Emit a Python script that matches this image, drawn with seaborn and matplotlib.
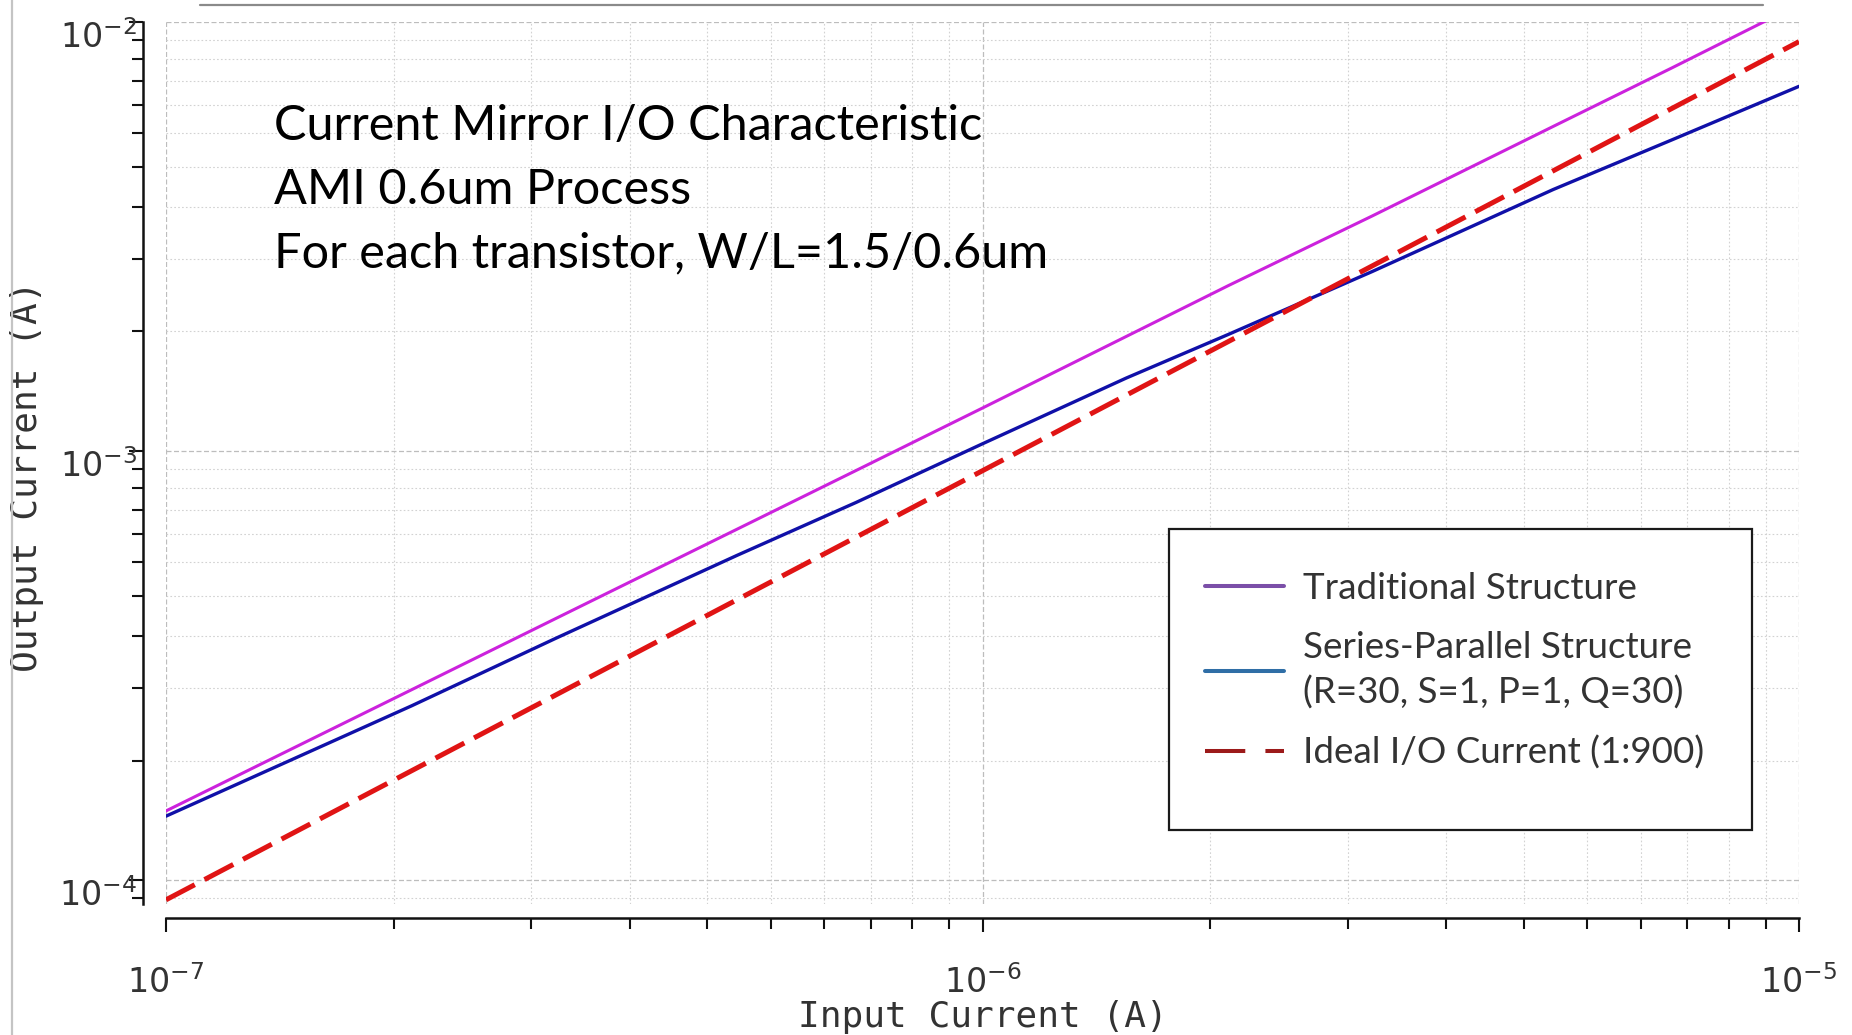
import numpy as np
import pandas as pd
import matplotlib
matplotlib.use("Agg")
import matplotlib.pyplot as plt
import matplotlib.ticker as mticker
import matplotlib.transforms as mtransforms
from matplotlib.lines import Line2D
from matplotlib.patches import Rectangle
import seaborn as sns

sns.set_style("ticks")
plt.rcParams["font.family"] = ["DejaVu Sans"]

# =========================
# DATA
# =========================
input_current = [1e-7, 2e-7, 3e-7, 5e-7, 7e-7, 1e-6, 1.5e-6, 2e-6, 3e-6, 5e-6, 7e-6, 1e-5]
traditional = [1.45e-4, 2.78e-4, 4.07e-4, 6.57e-4, 9.01e-4, 1.26e-3,
               1.85e-3, 2.43e-3, 3.53e-3, 5.71e-3, 7.83e-3, 1.10e-2]
series_parallel = [1.41e-4, 2.55e-4, 3.66e-4, 5.71e-4, 7.59e-4, 1.04e-3,
                   1.48e-3, 1.87e-3, 2.62e-3, 4.07e-3, 5.32e-3, 7.08e-3]
ideal = [9.0e-5, 1.8e-4, 2.7e-4, 4.5e-4, 6.3e-4, 9.0e-4,
         1.35e-3, 1.8e-3, 2.7e-3, 4.5e-3, 6.3e-3, 9.0e-3]

legend_labels = [
    "Traditional Structure",
    "Series-Parallel Structure\n(R=30, S=1, P=1, Q=30)",
    "Ideal I/O Current (1:900)",
]
x_major = [1e-7, 1e-6, 1e-5]
y_major = [1e-4, 1e-3, 1e-2]
minor_steps = [1.9, 2.8, 3.7, 4.6, 5.5, 6.4, 7.3, 8.2, 9.1]

df = pd.DataFrame({
    "x": input_current,
    "traditional": traditional,
    "series_parallel": series_parallel,
    "ideal": ideal,
})

# =========================
# FIGURE
# =========================
W, H = 1852, 1035
fig = plt.figure(figsize=(W / 100, H / 100), dpi=100)
ax = fig.add_axes([166 / W, 1 - 904 / H, (1799 - 166) / W, (904 - 22) / H])

ax.set_xscale("log")
ax.set_yscale("log")

sns.lineplot(data=df, x="x", y="traditional", ax=ax, color="#cc22dd",
             linewidth=2.2, errorbar=None, legend=False, zorder=3)
sns.lineplot(data=df, x="x", y="series_parallel", ax=ax, color="#1010a8",
             linewidth=2.4, errorbar=None, legend=False, zorder=3)
sns.lineplot(data=df, x="x", y="ideal", ax=ax, color="#e01414",
             linewidth=3.6, linestyle=(0, (6.5, 2.2)), errorbar=None,
             legend=False, zorder=4)

ax.set_xlim(1e-7, 1e-5)
ax.set_ylim(8.8e-5, 1e-2)

# minor ticks split each decade in ten linear steps
x_minor = [s * d for d in [1e-7, 1e-6] for s in minor_steps]
y_minor = [s * d for d in [1e-5, 1e-4, 1e-3] for s in minor_steps]
ax.xaxis.set_major_locator(mticker.FixedLocator(x_major))
ax.yaxis.set_major_locator(mticker.FixedLocator(y_major))
ax.xaxis.set_minor_locator(mticker.FixedLocator(x_minor))
ax.yaxis.set_minor_locator(mticker.FixedLocator(y_minor))
ax.xaxis.set_minor_formatter(mticker.NullFormatter())
ax.yaxis.set_minor_formatter(mticker.NullFormatter())

ax.grid(True, which="major", color="#bdbdbd", linestyle=(0, (4, 2)), linewidth=0.9)
ax.grid(True, which="minor", color="#d2d2d2", linestyle=(0, (1.5, 2)), linewidth=0.8)

sns.despine(ax=ax, offset={"left": 16.5, "bottom": 10})
for side in ["left", "bottom"]:
    ax.spines[side].set_linewidth(1.8)
    ax.spines[side].set_color("#111111")

ax.tick_params(axis="both", which="both", direction="out", color="#111111",
               width=1.5, labelsize=24, labelcolor="#333333")
ax.tick_params(axis="both", which="major", length=10)
ax.tick_params(axis="both", which="minor", length=8)
ax.tick_params(axis="y", which="major", pad=-5.5)
ax.tick_params(axis="x", which="major", pad=24)

# y tick labels sit a little below their ticks in the original
shift_down = mtransforms.ScaledTranslation(0, -12 / 100, fig.dpi_scale_trans)
for lab in ax.get_yticklabels():
    lab.set_transform(lab.get_transform() + shift_down)

ax.set_xlabel("Input Current (A)", family="DejaVu Sans Mono", fontsize=26,
              color="#333333")
ax.set_ylabel("Output Current (A)", family="DejaVu Sans Mono", fontsize=26,
              color="#333333")
ax.xaxis.set_label_coords(0.5, -0.1085)
ax.yaxis.set_label_coords(-0.0745, 0.485)

# annotation block
fig.text(274 / W, 1 - 104 / H,
         "Current Mirror I/O Characteristic\nAMI 0.6um Process\nFor each transistor, W/L=1.5/0.6um",
         family="Lato", fontsize=35, color="black", va="top", ha="left",
         linespacing=1.55)

# =========================
# LEGEND
# =========================
box = Rectangle((1169 / W, 1 - 830 / H), 583 / W, 301 / H,
                transform=fig.transFigure, facecolor="white",
                edgecolor="#1a1a1a", linewidth=1.6, zorder=5, clip_on=False)
ax.add_patch(box)

handles = [
    Line2D([], [], color="#7b4fa8", linewidth=2.9),
    Line2D([], [], color="#2f6ea6", linewidth=2.9),
    Line2D([], [], color="#9c1a1a", linewidth=2.9, linestyle=(0, (10, 5))),
]
leg = ax.legend(handles, legend_labels, loc="upper left",
                bbox_to_anchor=(1205 / W, 1 - 572 / H),
                bbox_transform=fig.transFigure, frameon=False, borderpad=0,
                borderaxespad=0, handlelength=2.15, handletextpad=0.52,
                labelspacing=0.7, prop={"family": "Lato", "size": 26.5})
for t in leg.get_texts():
    t.set_color("#333333")
    t.set_linespacing(1.42)
leg.set_zorder(6)

# scan edges of the original figure
fig.add_artist(Line2D([12 / W, 12 / W], [0, 1], transform=fig.transFigure,
                      color="#c4c4c4", linewidth=1.6))
fig.add_artist(Line2D([200 / W, 1763 / W], [1 - 5 / H, 1 - 5 / H],
                      transform=fig.transFigure, color="#8a8a8a", linewidth=1.6))

fig.savefig("out.png", dpi=100)
